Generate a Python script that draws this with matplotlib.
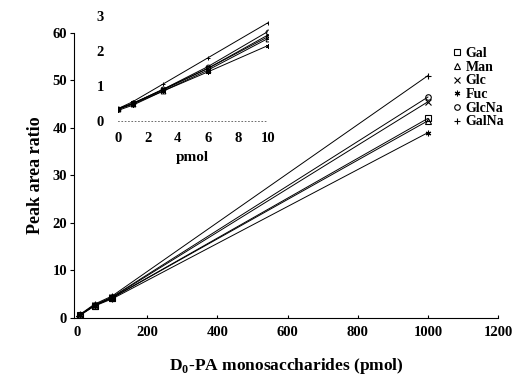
import numpy as np
import matplotlib.pyplot as plt

plt.rcParams['font.family'] = 'Liberation Serif'
plt.rcParams['font.weight'] = 'bold'
plt.rcParams['axes.labelweight'] = 'bold'
plt.rcParams['mathtext.fontset'] = 'custom'
plt.rcParams['mathtext.rm'] = 'Liberation Serif:bold'
plt.rcParams['mathtext.bf'] = 'Liberation Serif:bold'

names = ['Gal', 'Man', 'Glc', 'Fuc', 'GlcNa', 'GalNa']
markers = ['s', '^', 'x', (6, 2, 0), 'o', '+']

# main plot: pmol vs peak area ratio
x_main = [10, 50, 100, 1000]
gal_main = [0.7, 2.6, 4.2, 42.0]
man_main = [0.7, 2.6, 4.2, 41.5]
glc_main = [0.7, 2.7, 4.3, 45.5]
fuc_main = [0.6, 2.5, 4.0, 39.0]
glcna_main = [0.7, 2.7, 4.4, 46.5]
galna_main = [0.8, 2.9, 4.6, 51.0]

# inset: low range
x_ins = [0, 1, 3, 6, 10]
gal_ins = [0.33, 0.5, 0.88, 1.5, 2.4]
man_ins = [0.33, 0.48, 0.85, 1.45, 2.35]
glc_ins = [0.35, 0.5, 0.9, 1.5, 2.45]
fuc_ins = [0.3, 0.45, 0.85, 1.4, 2.15]
glcna_ins = [0.35, 0.5, 0.9, 1.55, 2.55]
galna_ins = [0.35, 0.55, 1.05, 1.8, 2.8]

main_xticks = [0, 200, 400, 600, 800, 1000, 1200]
main_yticks = [0, 10, 20, 30, 40, 50, 60]
ins_xticks = [0, 2, 4, 6, 8, 10]
ins_yticks = [0, 1, 2, 3]

main_vals = [gal_main, man_main, glc_main, fuc_main, glcna_main, galna_main]
ins_vals = [gal_ins, man_ins, glc_ins, fuc_ins, glcna_ins, galna_ins]

fig = plt.figure(figsize=(5.26, 3.78), dpi=100)
ax = fig.add_axes([0.141, 0.159, 0.806, 0.754])

for name, m, y in zip(names, markers, main_vals):
    ax.plot([0] + x_main, [0.3] + y, color='black', lw=0.7,
            marker=m, markersize=4, mfc='none', mec='black', mew=0.8,
            label=name, markevery=list(range(1, len(y) + 1)))

ax.set_xlim(-8, 1200)
ax.set_ylim(0, 60)
ax.set_xticks(main_xticks, [str(t) for t in main_xticks],
              fontweight='bold', fontsize=10.5)
ax.set_yticks(main_yticks, [str(t) for t in main_yticks],
              fontweight='bold', fontsize=10.5)
ax.spines['top'].set_visible(False)
ax.spines['right'].set_visible(False)
ax.tick_params(axis='y', direction='out', length=3, pad=2)
ax.tick_params(axis='x', direction='in', length=2, pad=6)
ax.set_xlabel(r'D$_0$-PA monosaccharides (pmol)', fontsize=12.5,
              fontweight='bold', labelpad=12)
ax.set_ylabel('Peak area ratio', fontsize=13, fontweight='bold', labelpad=6)

leg = ax.legend(loc='upper left', bbox_to_anchor=(0.88, 0.97), frameon=False,
                handlelength=0.6, handletextpad=0.3, labelspacing=0.05,
                prop={'size': 10, 'weight': 'bold'}, borderaxespad=0)
for h in leg.legend_handles:
    h.set_linestyle('none')

ins = fig.add_axes([0.224, 0.680, 0.285, 0.278])
for name, m, y in zip(names, markers, ins_vals):
    ins.plot(x_ins, y, color='black', lw=0.7, marker=m, markersize=3.5,
             mfc='none', mec='black', mew=0.7)
ins.set_xlim(0, 10)
ins.set_ylim(0, 3)
ins.set_xticks(ins_xticks, [str(t) for t in ins_xticks],
               fontweight='bold', fontsize=10.5)
ins.set_yticks(ins_yticks, [str(t) for t in ins_yticks],
               fontweight='bold', fontsize=10.5)
ins.patch.set_alpha(0)
for s in ['top', 'right', 'left']:
    ins.spines[s].set_visible(False)
ins.spines['bottom'].set_linestyle((0, (1, 3)))
ins.spines['bottom'].set_linewidth(0.6)
ins.spines['bottom'].set_color('#555555')
ins.tick_params(length=0, pad=8)
ins.tick_params(axis='y', pad=10)
ins.set_xlabel('pmol', fontsize=11, fontweight='bold', labelpad=4)

fig.savefig('out.png', dpi=100)
